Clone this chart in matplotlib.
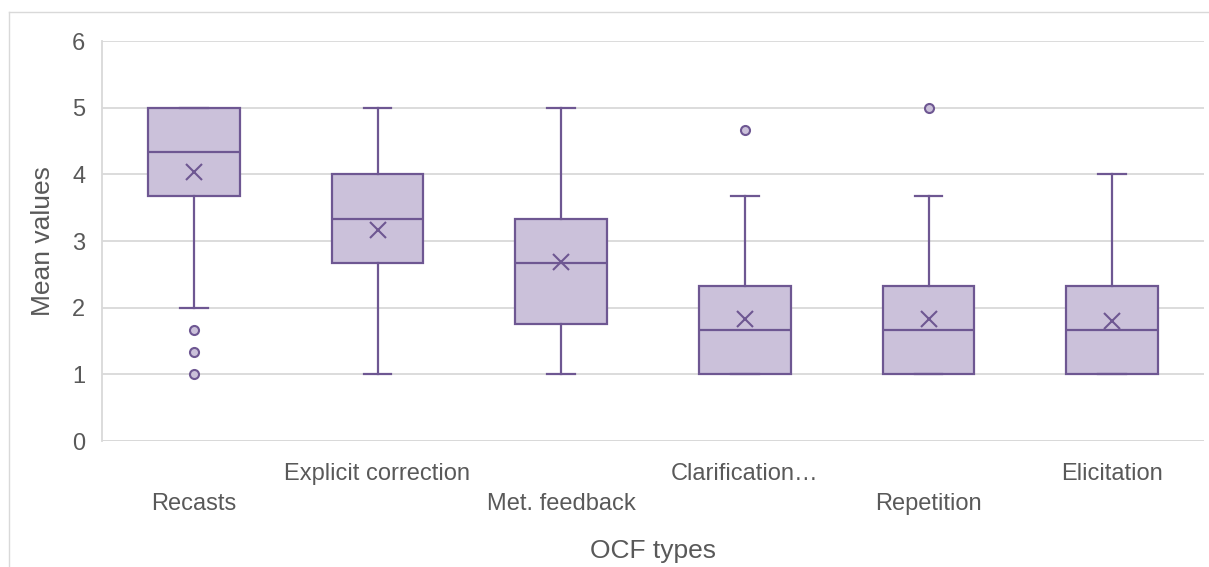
import matplotlib
matplotlib.use('Agg')
import matplotlib.pyplot as plt
from matplotlib.lines import Line2D

# values
categories = ['Recasts', 'Explicit correction', 'Met. feedback',
              'Clarification…', 'Repetition', 'Elicitation']
q1 = [3.67, 2.67, 1.75, 1.0, 1.0, 1.0]
median = [4.33, 3.33, 2.67, 1.67, 1.67, 1.67]
q3 = [5.0, 4.0, 3.33, 2.33, 2.33, 2.33]
mean = [4.03, 3.17, 2.69, 1.83, 1.83, 1.80]
whislo = [2.0, 1.0, 1.0, 1.0, 1.0, 1.0]
whishi = [5.0, 5.0, 5.0, 3.67, 3.67, 4.0]
fliers = [[1.67, 1.33, 1.0], [], [], [4.67], [5.0], []]

edge = '#6e5792'
fill = '#cbc1da'
text_col = '#595959'

plt.rcParams['font.family'] = ['Liberation Sans', 'DejaVu Sans']

stats = []
for i in range(len(categories)):
    stats.append({'label': categories[i], 'q1': q1[i], 'med': median[i],
                  'q3': q3[i], 'mean': mean[i], 'whislo': whislo[i],
                  'whishi': whishi[i], 'fliers': fliers[i]})

fig = plt.figure(figsize=(12.09, 5.67), dpi=100)
ax = fig.add_axes([102 / 1209, 1 - 441 / 567, (1204 - 102) / 1209, 400 / 567])

ax.bxp(stats, positions=range(len(categories)), widths=0.5, capwidths=0.15,
       showmeans=True, patch_artist=True,
       boxprops=dict(facecolor=fill, edgecolor=edge, linewidth=1.6),
       medianprops=dict(color=edge, linewidth=1.6),
       whiskerprops=dict(color=edge, linewidth=1.6),
       capprops=dict(color=edge, linewidth=1.6),
       meanprops=dict(marker='x', markeredgecolor=edge, markersize=12,
                      markeredgewidth=1.5),
       flierprops=dict(marker='o', markerfacecolor=fill, markeredgecolor=edge,
                       markersize=6.5, markeredgewidth=1.5))

ax.set_xlim(-0.5, len(categories) - 0.5)
ax.set_ylim(0, 6)
ax.set_yticks(range(7))
ax.yaxis.grid(True, color='#d9d9d9', linewidth=1.3)
ax.set_axisbelow(True)
for s in ['top', 'right', 'bottom']:
    ax.spines[s].set_visible(False)
ax.spines['left'].set_color('#d9d9d9')
ax.spines['left'].set_linewidth(1.3)
ax.axhline(0, color='#d9d9d9', linewidth=1.3, zorder=0)

# staggered labels like Excel does
labels = []
for i, c in enumerate(categories):
    labels.append('\n' + c if i % 2 == 0 else c)
ax.set_xticks(range(len(categories)))
ax.set_xticklabels(labels, fontsize=17, color=text_col)
for t in ax.get_xticklabels():
    t.set_linespacing(1.47)
    t.set_verticalalignment('top')
ax.tick_params(axis='x', length=0, pad=16)
ax.tick_params(axis='y', length=0, pad=12, labelsize=17, labelcolor=text_col)

ax.set_ylabel('Mean values', fontsize=19, color=text_col, labelpad=12)
ax.set_xlabel('OCF types', fontsize=19, color=text_col, labelpad=17)

# chart frame (left and top edges visible)
fig.add_artist(Line2D([9 / 1209, 9 / 1209], [0, 1 - 12 / 567],
                      transform=fig.transFigure, color='#d9d9d9', linewidth=1))
fig.add_artist(Line2D([9 / 1209, 1], [1 - 12 / 567, 1 - 12 / 567],
                      transform=fig.transFigure, color='#d9d9d9', linewidth=1))

fig.savefig('out.png', dpi=100)
